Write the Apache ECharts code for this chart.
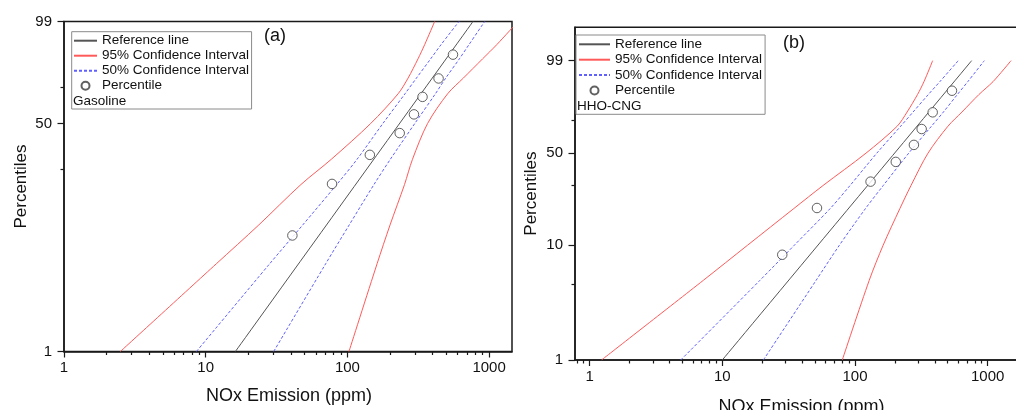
<!DOCTYPE html>
<html><head><meta charset="utf-8">
<script src="https://cdn.jsdelivr.net/npm/echarts@6/dist/echarts.min.js"></script>
<style>html,body{margin:0;padding:0;background:#fff}#c{width:1016px;height:410px}</style>
</head><body><div id="c"></div>
<script>
// ---- data ----
const percentiles = [8.3, 20.2, 32.1, 44.0, 56.0, 67.9, 79.8, 91.7];
const gasolineNOx = [40.9, 77.9, 144, 234, 295, 339, 440, 556];
const hhoNOx = [28.3, 51.7, 131, 203, 278, 318, 385, 538];

const refLevels = [1, 99];
const gasRef = [16.2, 770];
const hhoRef = [10, 757];

const ciLevels = [1, 5, 10, 20, 30, 50, 70, 80, 90, 95, 99];
const gasCi95Low  = [2.5, 11.9, 23.7, 47, 77, 146, 228, 268, 315, 351, 413];
const gasCi95High = [102.6, 162, 200, 253, 288, 368, 510, 658, 900, 1133, 1600];
const gasCi50Low  = [8.6, 28.3, 48.4, 84.1, 117, 178, 255, 307, 387, 458, 613];
const gasCi50High = [30.2, 70.3, 103, 154, 201, 299, 418, 494, 617, 721, 931];
const hhoCi95Low  = [1.23, 7.19, 15.5, 34.6, 57.3, 121, 208, 247, 296, 331, 385];
const hhoCi95High = [80.2, 128, 163, 218, 264, 355, 502, 640, 859, 1097, 1500];
const hhoCi50Low  = [4.86, 19.2, 34.9, 65.0, 91.6, 146, 221, 274, 357, 436, 600];
const hhoCi50High = [20.4, 50.9, 76.3, 120, 163, 254, 377, 464, 591, 708, 943];

const xMajorTicks = [1, 10, 100, 1000];
const xMinorTicksA = [2,3,4,5,6,7,8,9,20,30,40,50,60,70,80,90,200,300,400,500,600,700,800,900];
const xMinorTicksB = [0.8,0.9,2,3,4,5,6,7,8,9,20,30,40,50,60,70,80,90,200,300,400,500,600,700,800,900];
const yMajorTicksA = [1, 50, 99];
const yMinorTicksA = [25.5, 74.5];
const yMajorTicksB = [1, 10, 50, 99];
const yMinorTicksB = [4.6, 30, 74.5];
const xRangeA = [1, 1451];
const xRangeB = [0.776, 1814];
const yRangeA = [1, 99];
const yRangeB = [1, 99.989];

// ---- scale transforms (log10 for x, Weibull probability for y) ----
const W = p => Math.log(-Math.log(1 - p / 100));
const L = v => Math.log10(v);
const pts = (xs, ps) => xs.map((x, i) => [L(x), W(ps[i])]);

const FONT = 'Liberation Sans, Arial, sans-serif';
const AX = '#1a1a1a';

function xAxes(grid, range, minor, nameGapV, namePad) {
  return [{
    type: 'value', gridIndex: grid, min: L(range[0]), max: L(range[1]),
    name: 'NOx Emission (ppm)', nameLocation: 'middle', nameGap: nameGapV,
    nameTextStyle: {fontFamily: FONT, fontSize: 18, color: '#111', padding: namePad},
    axisLine: {show: true, onZero: false, lineStyle: {color: AX, width: 1.5}},
    axisTick: {show: true, inside: false, length: 6, lineStyle: {color: AX, width: 1.2},
               customValues: xMajorTicks.map(L)},
    axisLabel: {show: true, margin: 9, fontFamily: FONT, fontSize: 15, color: '#111',
                customValues: xMajorTicks.map(L),
                formatter: v => String(Math.round(Math.pow(10, v)))},
    splitLine: {show: false}
  }, {
    type: 'value', gridIndex: grid, min: L(range[0]), max: L(range[1]), position: 'bottom',
    axisLine: {show: false, onZero: false},
    axisTick: {show: true, length: 3.5, lineStyle: {color: AX, width: 1.2},
               customValues: minor.map(L)},
    axisLabel: {show: false}, splitLine: {show: false}
  }];
}
function yAxes(grid, range, major, minor, nameGapV) {
  return [{
    type: 'value', gridIndex: grid, min: W(range[0]), max: W(range[1]),
    name: 'Percentiles', nameLocation: 'middle', nameGap: nameGapV,
    nameTextStyle: {fontFamily: FONT, fontSize: 17, color: '#111'},
    axisLine: {show: true, onZero: false, lineStyle: {color: AX, width: 1.5}},
    axisTick: {show: true, length: 6.5, lineStyle: {color: AX, width: 1.2},
               customValues: major.map(W)},
    axisLabel: {show: true, margin: 12, fontFamily: FONT, fontSize: 15, color: '#111',
                customValues: major.map(W),
                formatter: v => String(Math.round(100 * (1 - Math.exp(-Math.exp(v)))))},
    splitLine: {show: false}
  }, {
    type: 'value', gridIndex: grid, min: W(range[0]), max: W(range[1]), position: 'left',
    axisLine: {show: false, onZero: false},
    axisTick: {show: true, length: 3.5, lineStyle: {color: AX, width: 1.2},
               customValues: minor.map(W)},
    axisLabel: {show: false}, splitLine: {show: false}
  }];
}

function panelSeries(xi, yi, refX, c95l, c95h, c50l, c50h, nox) {
  const line = (name, data, color, type, z) => ({
    name, type: 'line', xAxisIndex: xi, yAxisIndex: yi, data, symbol: 'none',
    smooth: 0.3, z, clip: true,
    lineStyle: {color, width: 1, type}, itemStyle: {color}
  });
  return [
    line('Reference line', pts(refX, refLevels), '#555555', 'solid', 3),
    line('95% Confidence Interval', pts(c95l, ciLevels), '#ff5a5a', 'solid', 2),
    line('95% Confidence Interval', pts(c95h, ciLevels), '#ff5a5a', 'solid', 2),
    line('50% Confidence Interval', pts(c50l, ciLevels), '#6060ff', [3, 2], 2),
    line('50% Confidence Interval', pts(c50h, ciLevels), '#6060ff', [3, 2], 2),
    {name: 'Percentile', type: 'scatter', xAxisIndex: xi, yAxisIndex: yi, z: 5,
     data: pts(nox, percentiles), symbol: 'circle', symbolSize: 9.5,
     itemStyle: {color: '#ffffff', borderColor: '#3a3a3a', borderWidth: 1}}
  ];
}

const hideSym = {color: 'rgba(0,0,0,0)', borderWidth: 0, opacity: 0};
const legendNames = ['Reference line', '95% Confidence Interval', '50% Confidence Interval', 'Percentile'];
function legend(left, top, itemWidth, pad, gap) {
  return {
    data: legendNames.map(n => n === 'Percentile' ? {name: n} : {name: n, itemStyle: hideSym}),
    orient: 'vertical', left, top, itemWidth, itemHeight: 8, itemGap: gap,
    padding: pad, borderColor: '#8a8a8a', borderWidth: 1, selectedMode: false,
    textStyle: {fontFamily: FONT, fontSize: 13.5, lineHeight: 14, color: '#111'}
  };
}

const option = {
  animation: false,
  backgroundColor: '#fff',
  grid: [
    {left: 64, top: 21.5, width: 448, height: 330, show: true, borderColor: AX, borderWidth: 1.5,
     containLabel: false, outerBoundsMode: 'none'},
    {left: 575, top: 27.3, width: 447, height: 332.7, show: true, borderColor: AX, borderWidth: 1.5,
     containLabel: false, outerBoundsMode: 'none'}
  ],
  xAxis: [...xAxes(0, xRangeA, xMinorTicksA, 36, [0, 0, 0, 2]), ...xAxes(1, xRangeB, xMinorTicksB, 38, [0, 0, 0, 6])],
  yAxis: [...yAxes(0, yRangeA, yMajorTicksA, yMinorTicksA, 34), ...yAxes(1, yRangeB, yMajorTicksB, yMinorTicksB, 35)],
  legend: [legend(71.7, 31.7, 23, [2, 2.5, 16.3, 1.3], 1), legend(576, 35, 31, [2.3, 3, 16.8, 2], 1.4)],
  graphic: [
    {type: 'text', left: 264, top: 27, style: {text: '(a)', fontFamily: FONT, fontSize: 18, fill: '#111'}},
    {type: 'text', left: 783, top: 34, style: {text: '(b)', fontFamily: FONT, fontSize: 18, fill: '#111'}},
    {type: 'text', left: 73, top: 94, style: {text: 'Gasoline', fontFamily: FONT, fontSize: 13.5, fill: '#111'}},
    {type: 'text', left: 577, top: 99, style: {text: 'HHO-CNG', fontFamily: FONT, fontSize: 13.5, fill: '#111'}}
  ],
  series: [
    ...panelSeries(0, 0, gasRef, gasCi95Low, gasCi95High, gasCi50Low, gasCi50High, gasolineNOx),
    ...panelSeries(2, 2, hhoRef, hhoCi95Low, hhoCi95High, hhoCi50Low, hhoCi50High, hhoNOx)
  ]
};
const chart = echarts.init(document.getElementById('c'));
chart.setOption(option);
</script>
</body></html>
